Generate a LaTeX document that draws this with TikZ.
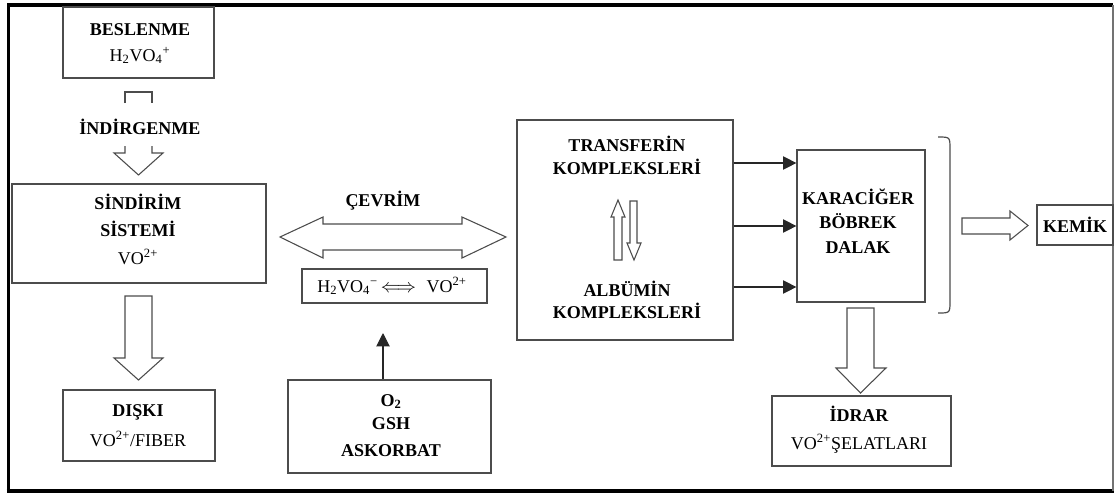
\documentclass[tikz,border=0pt]{standalone}
\usepackage{fontspec}
\setmainfont{Liberation Serif}
\usetikzlibrary{arrows.meta,fit}
\begin{document}
\begin{tikzpicture}[x=0.75pt,y=-0.75pt,
  box/.style={draw=black!70,line width=0.9pt,inner sep=0pt},
  txt/.style={font=\fontsize{13.5}{16}\selectfont\bfseries,inner sep=0pt,anchor=base},
  rtxt/.style={font=\fontsize{13.5}{16}\selectfont,inner sep=0pt,anchor=base},
  hollow/.style={draw=black!70,line width=0.8pt,fill=white,line join=miter},
  thin/.style={draw=black!85,line width=0.8pt,-{Triangle[length=10pt,width=10pt]}}]
\useasboundingbox (0,0) rectangle (1115,494);
% frame
\draw[line width=2.6pt] (8.3,5) -- (1113,5);
\draw[line width=2.6pt] (8.3,3.3) -- (8.3,492.7);
\draw[line width=2.6pt] (6.5,491) -- (1114,491);
\draw[black!55,line width=0.9pt] (1113,5) -- (1113,491);

% boxes
\node[box,fit={(63,7) (214,78)}] (besl) {};
\node[box,fit={(12,184) (266,283)}] (sind) {};
\node[box,fit={(63,390) (215,461)}] (diski) {};
\node[box,fit={(302,269) (487,303)}] (hvo) {};
\node[box,fit={(288,380) (491,473)}] (oks) {};
\node[box,fit={(517,120) (733,340)}] (trans) {};
\node[box,fit={(797,150) (925,302)}] (kar) {};
\node[box,fit={(772,396) (951,466)}] (idrar) {};
\node[box,fit={(1037,205) (1113,245)}] (kemik) {};

% texts
\node[txt] (t1) at (140,35) {BESLENME};
\node[rtxt] (t2) at (140,61) {H\textsubscript{2}VO\textsubscript{4}\textsuperscript{+}};
\node[txt] (t3) at (140,134) {İNDİRGENME};
\node[txt] (t4) at (138,209) {SİNDİRİM};
\node[txt] (t5) at (138,236) {SİSTEMİ};
\node[rtxt] (t6) at (138,264) {VO\textsuperscript{2+}};
\node[txt] (t7) at (138,416) {DIŞKI};
\node[rtxt] (t8) at (138,446) {VO\textsuperscript{2+}/FIBER};
\node[txt] (t9) at (383,206) {ÇEVRİM};
\node[rtxt] (t10) at (392,292) {H\textsubscript{2}VO\textsubscript{4}\textsuperscript{\textminus}\,$\Longleftrightarrow$\,\, VO\textsuperscript{2+}};
\node[txt] (t11) at (391,406) {O\textsubscript{2}};
\node[txt] (t12) at (391,429) {GSH};
\node[txt] (t13) at (391,456) {ASKORBAT};
\node[txt] (t14) at (627,151) {TRANSFERİN};
\node[txt] (t15) at (627,174) {KOMPLEKSLERİ};
\node[txt] (t16) at (627,296) {ALBÜMİN};
\node[txt] (t17) at (627,318) {KOMPLEKSLERİ};
\node[txt] (t18) at (858,204) {KARACİĞER};
\node[txt] (t19) at (858,228) {BÖBREK};
\node[txt] (t20) at (858,253) {DALAK};
\node[txt] (t21) at (1075,232) {KEMİK};
\node[txt] (t22) at (859,421) {İDRAR};
\node[rtxt] (t23) at (859,449) {VO\textsuperscript{2+}ŞELATLARI};

% interrupted hollow arrow (BESLENME -> SİNDİRİM)
\draw[hollow] (125,103) -- (125,92) -- (152,92) -- (152,103);
\draw[hollow] (125,146) -- (125,153) -- (114,153) -- (138.5,175) -- (163,153) -- (152,153) -- (152,146);

% hollow arrow SİNDİRİM -> DIŞKI
\draw[hollow] (125,296) -- (152,296) -- (152,358) -- (163,358) -- (138.5,380) -- (114,358) -- (125,358) -- cycle;

% double hollow arrow ÇEVRİM
\draw[hollow] (280,237) -- (323,217) -- (323,224) -- (462,224) -- (462,217) -- (506,237) -- (462,258) -- (462,250) -- (323,250) -- (323,258) -- cycle;

% small up/down arrows in transferin box
\draw[hollow] (614,260) -- (614,217) -- (611,217) -- (618,200) -- (625,217) -- (622,217) -- (622,260) -- cycle;
\draw[hollow] (630,201) -- (637,201) -- (637,243) -- (641,243) -- (634,260) -- (627,243) -- (630,243) -- cycle;

% arrow from oksidant box to hvo
\coordinate (uptip) at (383,333);
\draw[thin] (oks.north -| uptip) -- (uptip);

% three arrows transferin -> karaciger
\foreach \yy in {163,226,287} {
  \draw[thin] (trans.east |- 0,\yy) -- (kar.west |- 0,\yy);
}

% bracket
\draw[black!70,line width=0.9pt] (938,137) .. controls (950,137) .. (950,149) -- (950,301) .. controls (950,313) .. (938,313);

% hollow arrow to KEMİK
\draw[hollow] (962,218) -- (1010,218) -- (1010,211) -- (1028,225.5) -- (1010,240) -- (1010,234) -- (962,234) -- cycle;

% hollow arrow KARACİĞER -> İDRAR
\draw[hollow] (847,308) -- (874,308) -- (874,368) -- (886,368) -- (860.5,393) -- (836,368) -- (847,368) -- cycle;
\end{tikzpicture}
\end{document}
